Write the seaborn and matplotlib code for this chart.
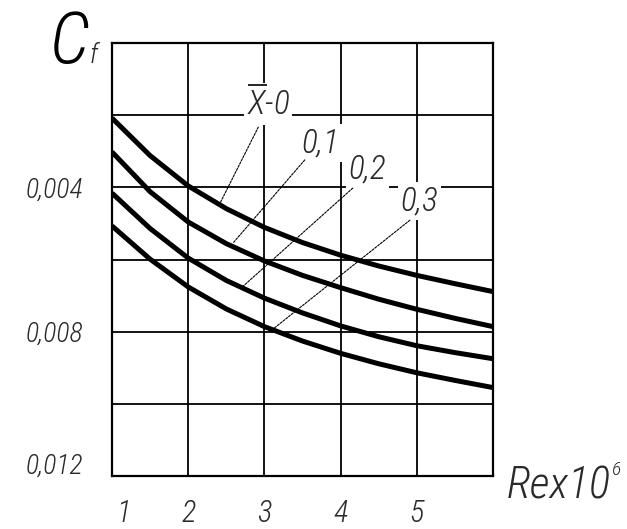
import numpy as np
import pandas as pd
import matplotlib
matplotlib.use("Agg")
import matplotlib.pyplot as plt
import matplotlib.transforms as mtransforms
import seaborn as sns

# Re x 10^6 positions where the curves were read
re_x = [1.0, 1.5, 2.0, 2.5, 3.0, 3.5, 4.0, 4.5, 5.0, 5.5, 6.0]
# Cf values for each relative position x (axis is drawn inverted)
cf_x0 = [0.00208, 0.00312, 0.00396, 0.00459, 0.00511, 0.00553, 0.00588, 0.00618, 0.00644, 0.00667, 0.00689]
cf_x1 = [0.00302, 0.00412, 0.00496, 0.00556, 0.00604, 0.00644, 0.00678, 0.00710, 0.00738, 0.00763, 0.00786]
cf_x2 = [0.00416, 0.00514, 0.00596, 0.00658, 0.00707, 0.00748, 0.00784, 0.00814, 0.00839, 0.00858, 0.00875]
cf_x3 = [0.00507, 0.00599, 0.00676, 0.00737, 0.00786, 0.00826, 0.00860, 0.00889, 0.00914, 0.00935, 0.00955]
series_names = ["0", "0,1", "0,2", "0,3"]

x_ticks = [1, 2, 3, 4, 5, 6]
x_ticklabels = ["1", "2", "3", "4", "5", ""]
y_ticks = [0.0, 0.002, 0.004, 0.006, 0.008, 0.010, 0.012]
y_ticklabels = ["", "", "0,004", "", "0,008", "", "0,012"]

sns.set_style("white")
FONT = ["Roboto Condensed", "Roboto", "DejaVu Sans"]
plt.rcParams["font.family"] = FONT
plt.rcParams["mathtext.fontset"] = "custom"
plt.rcParams["mathtext.rm"] = "Roboto Condensed:italic:light"
plt.rcParams["mathtext.it"] = "Roboto Condensed:italic:light"
TXT = "#2a2a2a"

df = pd.DataFrame({
    "Re": re_x * 4,
    "Cf": cf_x0 + cf_x1 + cf_x2 + cf_x3,
    "xbar": sum([[n] * len(re_x) for n in series_names], []),
})

fig = plt.figure(figsize=(6.27, 5.29), dpi=100)
ax = fig.add_axes([0.1786, 0.1002, 0.6077, 0.8185])

sns.lineplot(data=df, x="Re", y="Cf", hue="xbar", palette=["black"] * 4,
             linewidth=3.6, legend=False, ax=ax, zorder=5,
             solid_joinstyle="round", solid_capstyle="butt")

ax.set_xlim(1, 6)
ax.set_ylim(0.012, 0.0)
ax.set_xticks(x_ticks)
ax.set_xticklabels(x_ticklabels, fontsize=22, style="italic", fontweight="light", color=TXT)
ax.set_yticks(y_ticks)
ax.set_yticklabels(y_ticklabels, fontsize=20, style="italic", fontweight="light", color=TXT)
ax.tick_params(axis="both", length=0)
ax.tick_params(axis="x", pad=16)
ax.tick_params(axis="y", pad=21)
ax.grid(True, color="black", linewidth=1.3)
for s in ax.spines.values():
    s.set_color("black")
    s.set_linewidth(1.6)
ax.set_xlabel("")
ax.set_ylabel("")

# small hand-drawn offsets of a few tick labels
lbl = ax.get_xticklabels()[0]
lbl.set_transform(lbl.get_transform() + mtransforms.ScaledTranslation(0.11, 0, fig.dpi_scale_trans))
lbl = ax.get_yticklabels()[-1]
lbl.set_transform(lbl.get_transform() + mtransforms.ScaledTranslation(0, 0.13, fig.dpi_scale_trans))

# curve labels with leader lines
box = dict(facecolor="white", edgecolor="none", pad=2)
labels = [
    (r"$\overline{X}$-0", 3.05, 0.00200, 2.92, 0.00233, 2.42, 0.00443),
    ("0,1", 3.73, 0.00302, 3.53, 0.00324, 2.59, 0.00554),
    ("0,2", 4.35, 0.00374, 4.16, 0.00402, 2.71, 0.00676),
    ("0,3", 5.03, 0.00463, 4.91, 0.00491, 3.10, 0.00795),
]
for txt, tx, ty, x0, y0, x1, y1 in labels:
    ax.text(tx, ty, txt, fontsize=24, style="italic", fontweight="light", color=TXT,
            ha="center", va="baseline", bbox=box, zorder=4)
    ax.annotate("", xy=(x1, y1), xytext=(x0, y0),
                arrowprops=dict(arrowstyle="-", linestyle=(0, (2, 1.2)),
                                linewidth=0.8, color="black", shrinkA=0, shrinkB=0),
                zorder=4)

# axis titles
fig.text(0.079, 0.881, "C", fontsize=52, style="italic", fontweight="light",
         color="black", ha="left", va="baseline")
fig.text(0.143, 0.881, "f", fontsize=20, style="italic", fontweight="light",
         color=TXT, ha="left", va="baseline")
fig.text(0.808, 0.0586, "Rex10", fontsize=32, style="italic", fontweight="light",
         color=TXT, ha="left", va="baseline")
fig.text(0.974, 0.102, "6", fontsize=14, style="italic", fontweight="light",
         color=TXT, ha="left", va="baseline")

fig.savefig("out.png", dpi=100)
